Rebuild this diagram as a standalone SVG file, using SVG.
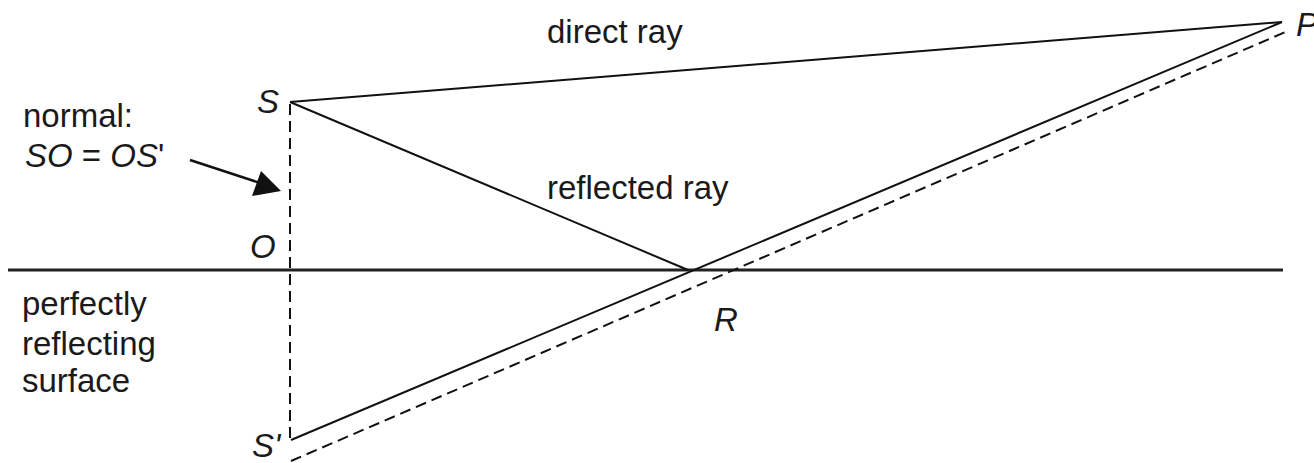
<svg xmlns="http://www.w3.org/2000/svg" width="1314" height="463" viewBox="0 0 1314 463">
<style>
.t{font-family:"Liberation Sans",Arial,sans-serif;font-size:33px;fill:#1a1a1a}
.i{font-style:italic}
.s{stroke:#111;stroke-width:2;fill:none}
.d{stroke:#111;stroke-width:2;fill:none;stroke-dasharray:11 6}
</style>
<rect width="1314" height="463" fill="#fff"/>
<g id="connectors">
<line x1="8" y1="270" x2="1283" y2="270" stroke="#222" stroke-width="3"/>
<line class="d" x1="290" y1="104" x2="290" y2="441"/>
<line class="s" x1="290" y1="102" x2="1282" y2="22"/>
<line class="s" x1="290" y1="102" x2="688" y2="270"/>
<line class="s" x1="291" y1="440" x2="1282" y2="22"/>
<line class="d" x1="291" y1="461" x2="1290" y2="30"/>
<line x1="190" y1="160" x2="260" y2="183" stroke="#111" stroke-width="2.5"/>
<path d="M281,191 L252,196 L261,171 z" fill="#111"/>
</g>
<g id="direct-ray"><text class="t" x="547" y="43">direct ray</text></g>
<g id="reflected-ray"><text class="t" x="547" y="199">reflected ray</text></g>
<g id="S"><text class="t i" x="257" y="113">S</text></g>
<g id="O"><text class="t i" x="250" y="258">O</text></g>
<g id="S-prime"><text class="t i" x="252" y="457">S'</text></g>
<g id="R"><text class="t i" x="714" y="331">R</text></g>
<g id="P"><text class="t i" x="1296" y="36">P</text></g>
<g id="normal-label">
<text class="t" x="23" y="127">normal:</text>
<text class="t" x="25" y="167"><tspan class="i">SO</tspan> = <tspan class="i">OS</tspan>'</text>
</g>
<g id="surface-label">
<text class="t" x="22" y="315">perfectly</text>
<text class="t" x="22" y="355">reflecting</text>
<text class="t" x="22" y="392">surface</text>
</g>
</svg>
